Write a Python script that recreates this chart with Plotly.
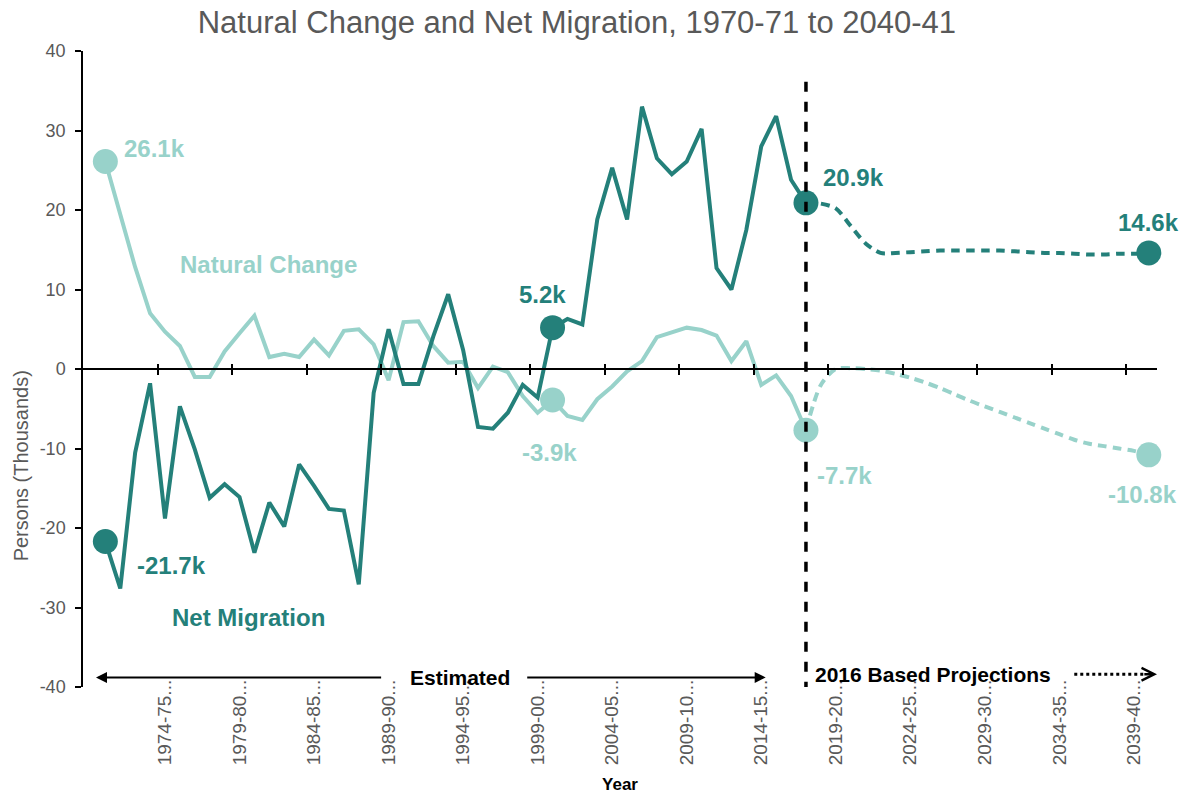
import plotly.graph_objects as go

# categories: financial years 1970-71 .. 2040-41
years = [f"{y}-{str(y + 1)[-2:]}" for y in range(1970, 2041)]

natural_change = [
    26.1, 19.5, 12.8, 7.0, 4.7, 2.9, -1.0, -1.0, 2.2, 4.5,
    6.7, 1.5, 1.9, 1.5, 3.7, 1.7, 4.8, 5.0, 3.1, -1.4,
    5.9, 6.0, 2.9, 0.8, 0.9, -2.4, 0.3, -0.4, -3.4, -5.5,
    -3.9, -5.9, -6.4, -3.8, -2.2, -0.3, 1.0, 4.0, 4.6, 5.2,
    4.9, 4.2, 1.0, 3.5, -2.0, -0.8, -3.4, -7.7, -2.0, 0.0,
    0.1, 0.0, -0.2, -0.6, -1.1, -1.7, -2.4, -3.2, -4.0, -4.7,
    -5.4, -6.1, -6.8, -7.5, -8.2, -8.9, -9.4, -9.7, -10.0, -10.3,
    -10.8,
]

net_migration = [
    -21.7, -27.6, -10.5, -1.8, -18.8, -4.7, -10.1, -16.2, -14.5, -16.1,
    -23.1, -16.8, -19.8, -12.0, -14.7, -17.6, -17.8, -27.1, -3.0, 5.0,
    -1.9, -1.9, 4.1, 9.4, 2.4, -7.3, -7.5, -5.5, -2.0, -3.6,
    5.2, 6.3, 5.6, 18.8, 25.3, 18.8, 33.0, 26.5, 24.5, 26.1,
    30.2, 12.7, 10.0, 17.5, 28.0, 31.8, 23.8, 20.9, 20.8, 20.2,
    18.0, 15.8, 14.6, 14.6, 14.7, 14.8, 14.9, 14.9, 14.9, 14.9,
    14.9, 14.8, 14.7, 14.6, 14.6, 14.5, 14.4, 14.4, 14.5, 14.5,
    14.6,
]

projection_start = "2017-18"
highlight_years = ["1970-71", "2000-01", "2017-18", "2040-41"]

tick_years = ["1974-75", "1979-80", "1984-85", "1989-90", "1994-95", "1999-00",
              "2004-05", "2009-10", "2014-15", "2019-20", "2024-25", "2029-30",
              "2034-35", "2039-40"]
tick_labels = [t + "..." for t in tick_years]

y_ticks = [-40, -30, -20, -10, 0, 10, 20, 30, 40]
y_tick_labels = ["-40", "-30", "-20", "-10", "0", "10", "20", "30", "40"]

DARK = "#24807A"
LIGHT = "#98D2CA"
GREY = "#595959"
FONT = "Arial, Liberation Sans, sans-serif"

# label offsets in px from each highlighted point
nc_shift = [(49, 13), (-3, -52), (39, -45), (-6, -40)]
nm_shift = [(66, -24), (-10, 33), (48, 25), (0, 30)]

split = years.index(projection_start)
hi_idx = [years.index(h) for h in highlight_years]
x_range = [-1.5, 70.55]
boundary_ticks = [i - 0.5 for i in range(4, 70, 5)]

fig = go.Figure()

for vals, col in [(natural_change, LIGHT), (net_migration, DARK)]:
    fig.add_trace(go.Scatter(x=years[:split + 1], y=vals[:split + 1], mode="lines",
                             line=dict(color=col, width=4), showlegend=False,
                             hoverinfo="skip"))
    fig.add_trace(go.Scatter(x=years[split:], y=vals[split:], mode="lines",
                             line=dict(color=col, width=4, dash="9px,6px", shape="spline",
                                       smoothing=0.8),
                             showlegend=False, hoverinfo="skip"))

for vals, col in [(natural_change, LIGHT), (net_migration, DARK)]:
    fig.add_trace(go.Scatter(x=[years[i] for i in hi_idx], y=[vals[i] for i in hi_idx],
                             mode="markers", marker=dict(color=col, size=25),
                             cliponaxis=False, showlegend=False))

# empty traces so the zero-line tick axes get drawn
for ax in ["x2", "x3"]:
    fig.add_trace(go.Scatter(x=[], y=[], xaxis=ax, yaxis="y", showlegend=False,
                             hoverinfo="skip"))

annotations = []
for vals, col, shifts in [(natural_change, LIGHT, nc_shift), (net_migration, DARK, nm_shift)]:
    for i, (dx, dy) in zip(hi_idx, shifts):
        annotations.append(dict(x=years[i], y=vals[i], text=f"<b>{vals[i]:.1f}k</b>",
                                showarrow=False, xshift=dx, yshift=dy,
                                font=dict(color=col, size=24, family=FONT)))

annotations += [
    dict(xref="paper", yref="paper", x=0.173, y=0.664, xanchor="center", yanchor="middle",
         text="<b>Natural Change</b>", showarrow=False,
         font=dict(color=LIGHT, size=24, family=FONT)),
    dict(xref="paper", yref="paper", x=0.154, y=0.110, xanchor="center", yanchor="middle",
         text="<b>Net Migration</b>", showarrow=False,
         font=dict(color=DARK, size=24, family=FONT)),
    # estimated arrow, split around the label
    dict(x=-0.63, y=-38.8, ax=18.6, ay=-38.8, axref="x", ayref="y", text="",
         showarrow=True, arrowhead=2, arrowwidth=2, arrowsize=1.1, arrowcolor="black"),
    dict(x=44.3, y=-38.8, ax=28.2, ay=-38.8, axref="x", ayref="y", text="",
         showarrow=True, arrowhead=2, arrowwidth=2, arrowsize=1.1, arrowcolor="black"),
    dict(xref="paper", yref="y", x=0.351, y=-38.8, xanchor="center",
         text="<b>Estimated</b>", showarrow=False,
         font=dict(color="black", size=21, family=FONT)),
    dict(x=47.47, y=-38.4, xanchor="left", text="<b>2016 Based Projections</b>",
         showarrow=False, font=dict(color="black", size=21, family=FONT)),
    dict(x=70.55, y=-38.4, ax=69.6, ay=-38.4, axref="x", ayref="y", text="",
         showarrow=True, arrowhead=5, arrowwidth=2.5, arrowsize=1, arrowcolor="black"),
    dict(xref="paper", yref="paper", x=-0.0577, y=0.347, xanchor="center",
         yanchor="middle", text="Persons (Thousands)", textangle=-90, showarrow=False,
         font=dict(color=GREY, size=20, family=FONT)),
]

shapes = [
    dict(type="line", xref="x", yref="y", x0=split, x1=split, y0=-40.6, y1=36.7,
         line=dict(color="black", width=3.5, dash="10px,10px"), layer="above"),
    dict(type="line", xref="x", yref="y", x0=65.0, x1=69.7, y0=-38.4, y1=-38.4,
         line=dict(color="black", width=3, dash="dot")),
]

zero_axis = dict(overlaying="x", anchor="free", position=0.5, range=x_range,
                 ticklen=5, tickwidth=1.5, tickcolor="black", tickvals=boundary_ticks,
                 showticklabels=False, showgrid=False, zeroline=False, automargin=False)

fig.update_layout(
    width=1187, height=794,
    margin=dict(l=83, r=30, t=51, b=107, autoexpand=False),
    plot_bgcolor="white", paper_bgcolor="white",
    font=dict(family=FONT, color=GREY),
    title=dict(text="Natural Change and Net Migration, 1970-71 to 2040-41",
               x=0.486, xanchor="center", y=0.972, yanchor="middle",
               font=dict(size=31, color=GREY, family=FONT)),
    xaxis=dict(type="category", categoryorder="array", categoryarray=years,
               range=x_range, tickvals=tick_years, ticktext=tick_labels, tickangle=-90,
               ticks="", showline=False, showgrid=False, zeroline=False,
               automargin=False,
               tickfont=dict(size=19, color=GREY), ticklabelstandoff=-12,
               title=dict(text="<b>Year</b>", standoff=14,
                          font=dict(size=17, color="black", family=FONT))),
    xaxis2=dict(zero_axis, showline=True, linecolor="black", linewidth=1.5,
                ticks="outside"),
    xaxis3=dict(zero_axis, showline=False, ticks="inside"),
    yaxis=dict(range=[-40, 40], tickvals=y_ticks, ticktext=y_tick_labels,
               showline=True, linecolor="black", automargin=False,
               linewidth=1.5, ticks="outside", ticklen=6, tickwidth=1.5,
               tickcolor="black", showgrid=False, zeroline=False,
               tickfont=dict(size=18, color=GREY), ticklabelstandoff=6),
    annotations=annotations,
    shapes=shapes,
)

fig.write_html("out.html", config={"displayModeBar": False},
               post_script="document.body.style.margin='0';")
